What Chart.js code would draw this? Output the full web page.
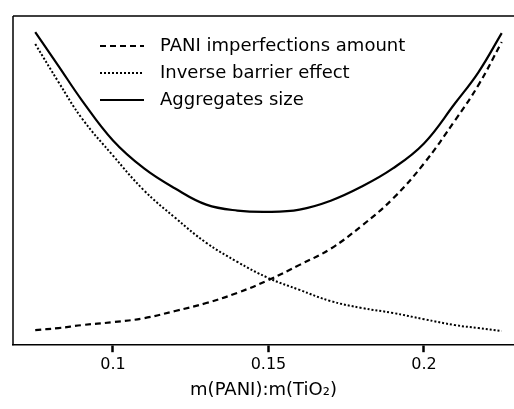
<!DOCTYPE html>
<html>
<head>
<meta charset="utf-8">
<script src="https://cdn.jsdelivr.net/npm/chart.js@4.4.1/dist/chart.umd.min.js"></script>
<style>
  html, body { margin: 0; padding: 0; background: #fff; }
  #wrap { width: 514px; height: 409px; }
</style>
</head>
<body>
<div id="wrap"><canvas id="chart"></canvas></div>
<script>
// ratio values along the x axis
const ratios = [0.075, 0.0825, 0.09, 0.1, 0.11, 0.12, 0.13, 0.14, 0.15, 0.16, 0.17, 0.18, 0.19, 0.2, 0.21, 0.2175, 0.225];

// relative (unitless) values
const imperfections = [0.046, 0.052, 0.061, 0.070, 0.082, 0.104, 0.128, 0.159, 0.198, 0.244, 0.293, 0.363, 0.445, 0.552, 0.683, 0.790, 0.921];
const barrierEffect = [0.915, 0.799, 0.689, 0.576, 0.470, 0.387, 0.311, 0.253, 0.204, 0.168, 0.134, 0.113, 0.098, 0.079, 0.061, 0.052, 0.043];
const aggregates = [0.951, 0.848, 0.744, 0.622, 0.537, 0.476, 0.427, 0.409, 0.405, 0.412, 0.439, 0.482, 0.537, 0.613, 0.735, 0.829, 0.948];

const tickValues = [0.1, 0.15, 0.2];
const seriesNames = ['PANI imperfections amount', 'Inverse barrier effect', 'Aggregates size'];

const fontFamily = '"DejaVu Sans", sans-serif';

function toPoints(values) {
    return ratios.map((x, i) => ({ x: x, y: values[i] }));
}

// legend inside the plot + top / left frame lines
const framePlugin = {
    id: 'frame',
    afterDatasetsDraw(chart) {
        const ctx = chart.ctx;
        const area = chart.chartArea;
        ctx.save();
        ctx.strokeStyle = '#000';
        ctx.lineWidth = 1.5;
        ctx.setLineDash([]);
        ctx.beginPath();
        ctx.moveTo(area.left, area.top);
        ctx.lineTo(chart.width, area.top);
        ctx.moveTo(area.left, area.top);
        ctx.lineTo(area.left, area.bottom);
        ctx.stroke();

        // legend
        const rowY = [46, 73, 100];
        chart.data.datasets.forEach((ds, i) => {
            ctx.strokeStyle = '#000';
            ctx.lineWidth = ds.borderWidth;
            ctx.setLineDash(ds.borderDash || []);
            ctx.beginPath();
            ctx.moveTo(100, rowY[i]);
            ctx.lineTo(144, rowY[i]);
            ctx.stroke();
            ctx.setLineDash([]);
            ctx.fillStyle = '#000';
            ctx.font = '18px ' + fontFamily;
            ctx.textBaseline = 'middle';
            ctx.textAlign = 'left';
            ctx.fillText(ds.label, 160, rowY[i]);
        });
        ctx.restore();
    }
};

new Chart(document.getElementById('chart'), {
    type: 'line',
    data: {
        datasets: [
            {
                label: seriesNames[0],
                data: toPoints(imperfections),
                borderColor: '#000',
                borderWidth: 2.2,
                borderDash: [6, 4],
                pointRadius: 0,
                tension: 0.4
            },
            {
                label: seriesNames[1],
                data: toPoints(barrierEffect),
                borderColor: '#000',
                borderWidth: 2,
                borderDash: [2, 2],
                pointRadius: 0,
                tension: 0.4
            },
            {
                label: seriesNames[2],
                data: toPoints(aggregates),
                borderColor: '#000',
                borderWidth: 2.2,
                pointRadius: 0,
                tension: 0.4
            }
        ]
    },
    options: {
        responsive: true,
        maintainAspectRatio: false,
        animation: false,
        layout: { padding: { left: 13, top: 16, right: 0, bottom: 8 } },
        plugins: {
            legend: { display: false },
            tooltip: { enabled: false }
        },
        scales: {
            x: {
                type: 'linear',
                min: 0.06785,
                max: 0.22895,
                afterBuildTicks: axis => {
                    axis.ticks = tickValues.map(v => ({ value: v }));
                },
                grid: {
                    drawOnChartArea: false,
                    drawTicks: true,
                    tickLength: 7,
                    tickWidth: 2.5,
                    color: '#000'
                },
                border: { display: true, color: '#000', width: 1.5 },
                ticks: {
                    color: '#000',
                    padding: 3,
                    maxRotation: 0,
                    font: { family: fontFamily, size: 16 },
                    callback: v => String(v)
                },
                title: {
                    display: true,
                    text: 'm(PANI):m(TiO₂)',
                    color: '#000',
                    padding: { top: 2, bottom: 0 },
                    font: { family: fontFamily, size: 18 }
                }
            },
            y: {
                display: false,
                min: 0,
                max: 1
            }
        }
    },
    plugins: [framePlugin]
});
</script>
</body>
</html>
